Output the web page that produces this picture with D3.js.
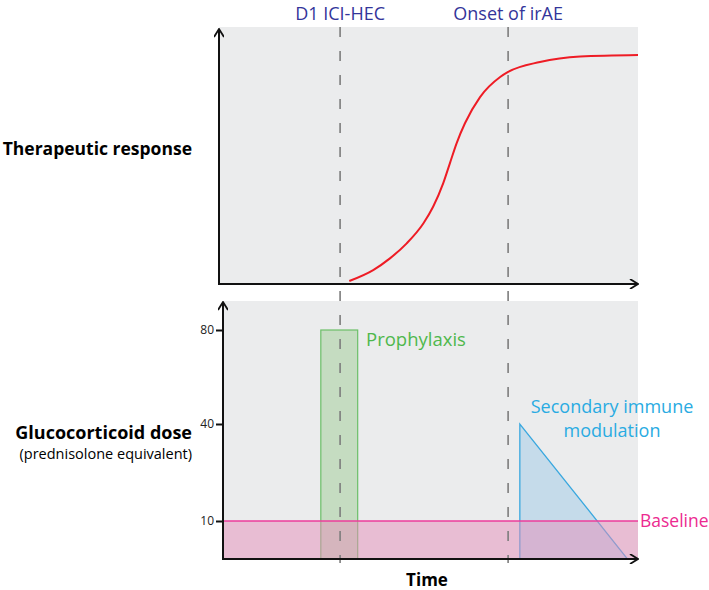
<!DOCTYPE html>
<html>
<head>
<meta charset="utf-8">
<script src="https://cdn.jsdelivr.net/npm/d3@7"></script>
<style>
  body { margin: 0; background: #fff; }
  text { font-family: "Open Sans", "Noto Sans", sans-serif; }
</style>
</head>
<body>
<div id="chart"></div>
<script>
// Data (time in arbitrary 0-100 units)
const eventTimes = [28.9, 69.0];
const eventLabels = ['D1 ICI-HEC', 'Onset of irAE'];

const responseTime = [31.1, 36.8, 40.8, 44.8, 48.8, 51.1, 53.5, 55.1, 56.7, 58.7, 62.3, 67.1, 69.0, 76.6, 86.2, 100];
const responseValue = [1.2, 5.5, 10.1, 16.0, 23.9, 30.4, 39.6, 47.5, 55.4, 63.3, 73.6, 81.5, 83.5, 87.4, 89.6, 90.2];

const doseTicks = [10, 40, 80];
const prophylaxisTime = [24.3, 33.1];
const prophylaxisDose = 80;
const secondaryTime = [71.8, 71.8, 97.5];
const secondaryDose = [0, 40, 0];
const baselineDose = 10;

const width = 709, height = 590;
const topPanel = {x0: 219, x1: 638, y0: 27, y1: 284};
const botPanel = {x0: 223, x1: 638, y0: 301, y1: 559};

const svg = d3.select('#chart').append('svg')
    .attr('width', width)
    .attr('height', height);

const defs = svg.append('defs');
defs.append('marker')
    .attr('id', 'arrow')
    .attr('viewBox', '0 0 10 10')
    .attr('refX', 9).attr('refY', 5)
    .attr('markerWidth', 10).attr('markerHeight', 10)
    .attr('markerUnits', 'userSpaceOnUse')
    .attr('orient', 'auto')
    .append('path')
    .attr('d', 'M1,0 L9,5 L1,10')
    .attr('fill', 'none')
    .attr('stroke', '#111')
    .attr('stroke-width', 1.8);

// Scales
const xScale = d3.scaleLinear().domain([0, 100]).range([topPanel.x0, topPanel.x1]);
const respScale = d3.scaleLinear().domain([0, 100]).range([topPanel.y1, 30]);
// schematic, non-linear dose axis
const doseScale = d3.scaleLinear().domain([0, 10, 40, 80]).range([559, 521, 424, 330]);

// Panel backgrounds
[topPanel, botPanel].forEach(p => {
    svg.append('rect')
        .attr('x', p.x0).attr('y', p.y0)
        .attr('width', p.x1 - p.x0).attr('height', p.y1 - p.y0)
        .attr('fill', '#ebeced');
});

// Therapeutic response curve
const line = d3.line()
    .x((d, i) => xScale(responseTime[i]))
    .y(d => respScale(d))
    .curve(d3.curveMonotoneX);
svg.append('path')
    .datum(responseValue)
    .attr('d', line)
    .attr('fill', 'none')
    .attr('stroke', '#ee1c25')
    .attr('stroke-width', 2);

// Prophylaxis bar
svg.append('rect')
    .attr('x', xScale(prophylaxisTime[0]))
    .attr('y', doseScale(prophylaxisDose))
    .attr('width', xScale(prophylaxisTime[1]) - xScale(prophylaxisTime[0]))
    .attr('height', doseScale(0) - doseScale(prophylaxisDose))
    .attr('fill', '#c5dcc1')
    .attr('stroke', '#6cbf68')
    .attr('stroke-width', 1.2);

// Secondary immune modulation triangle
const tri = d3.line()
    .x((d, i) => xScale(secondaryTime[i]))
    .y(d => doseScale(d));
svg.append('path')
    .attr('d', tri(secondaryDose) + 'Z')
    .attr('fill', '#c5dbea')
    .attr('stroke', '#3aa8df')
    .attr('stroke-width', 1.3);

// Baseline band
svg.append('rect')
    .attr('x', botPanel.x0)
    .attr('y', doseScale(baselineDose))
    .attr('width', botPanel.x1 - botPanel.x0)
    .attr('height', doseScale(0) - doseScale(baselineDose))
    .attr('fill', '#e58dba')
    .attr('fill-opacity', 0.5);
svg.append('line')
    .attr('x1', botPanel.x0).attr('x2', botPanel.x1)
    .attr('y1', doseScale(baselineDose)).attr('y2', doseScale(baselineDose))
    .attr('stroke', '#ec3d9b')
    .attr('stroke-width', 1.3);

// Event dashed lines + labels
svg.selectAll('.event')
    .data(eventTimes)
    .join('line')
    .attr('class', 'event')
    .attr('x1', d => xScale(d)).attr('x2', d => xScale(d))
    .attr('y1', 27).attr('y2', 563)
    .attr('stroke', '#7d7d7d')
    .attr('stroke-width', 1.6)
    .attr('stroke-dasharray', '10,14');

svg.selectAll('.eventLabel')
    .data(eventTimes)
    .join('text')
    .attr('class', 'eventLabel')
    .attr('x', d => xScale(d))
    .attr('y', 19.5)
    .attr('text-anchor', 'middle')
    .attr('fill', '#33359a')
    .style('font-size', '18px')
    .text((d, i) => eventLabels[i]);

// Axes
const axisStroke = (sel) => sel.attr('stroke', '#111').attr('stroke-width', 2).attr('marker-end', 'url(#arrow)');
svg.append('line').attr('x1', topPanel.x0).attr('x2', topPanel.x0)
    .attr('y1', topPanel.y1).attr('y2', 29).call(axisStroke);
svg.append('line').attr('x1', topPanel.x0 - 1).attr('x2', topPanel.x1)
    .attr('y1', topPanel.y1).attr('y2', topPanel.y1).call(axisStroke);
svg.append('line').attr('x1', botPanel.x0).attr('x2', botPanel.x0)
    .attr('y1', botPanel.y1).attr('y2', 302).call(axisStroke);
svg.append('line').attr('x1', botPanel.x0 - 1).attr('x2', botPanel.x1)
    .attr('y1', botPanel.y1).attr('y2', botPanel.y1).call(axisStroke);

const yAxis = d3.axisLeft(doseScale)
    .tickValues(doseTicks)
    .tickSize(7)
    .tickSizeOuter(0)
    .tickPadding(2);
const yAxisG = svg.append('g')
    .attr('transform', 'translate(' + botPanel.x0 + ',0)')
    .call(yAxis);
yAxisG.select('.domain').remove();
yAxisG.selectAll('.tick line').attr('stroke', '#111').attr('stroke-width', 2);
yAxisG.selectAll('.tick text')
    .attr('fill', '#222')
    .style('font-size', '12px')
    .style('font-family', '"Open Sans", sans-serif');

// Annotations
svg.append('text')
    .attr('x', 366).attr('y', 346)
    .attr('fill', '#4fb84c')
    .style('font-size', '18.5px')
    .text('Prophylaxis');

const secLabel = svg.append('text')
    .attr('text-anchor', 'middle')
    .attr('fill', '#29abe2')
    .style('font-size', '18px');
secLabel.append('tspan').attr('x', 612).attr('y', 413).text('Secondary immune');
secLabel.append('tspan').attr('x', 612).attr('y', 437).text('modulation');

svg.append('text')
    .attr('x', 640).attr('y', 527)
    .attr('fill', '#ec2a90')
    .style('font-size', '17.5px')
    .text('Baseline');

// Panel titles
svg.append('text')
    .attr('x', 192).attr('y', 155)
    .attr('text-anchor', 'end')
    .style('font-size', '17.5px')
    .style('font-weight', 'bold')
    .text('Therapeutic response');

svg.append('text')
    .attr('x', 192).attr('y', 439)
    .attr('text-anchor', 'end')
    .style('font-size', '18px')
    .style('font-weight', 'bold')
    .text('Glucocorticoid dose');

svg.append('text')
    .attr('x', 192).attr('y', 459)
    .attr('text-anchor', 'end')
    .style('font-size', '14.5px')
    .text('(prednisolone equivalent)');

svg.append('text')
    .attr('x', 427).attr('y', 586)
    .attr('text-anchor', 'middle')
    .style('font-size', '17px')
    .style('font-weight', 'bold')
    .text('Time');
</script>
</body>
</html>
